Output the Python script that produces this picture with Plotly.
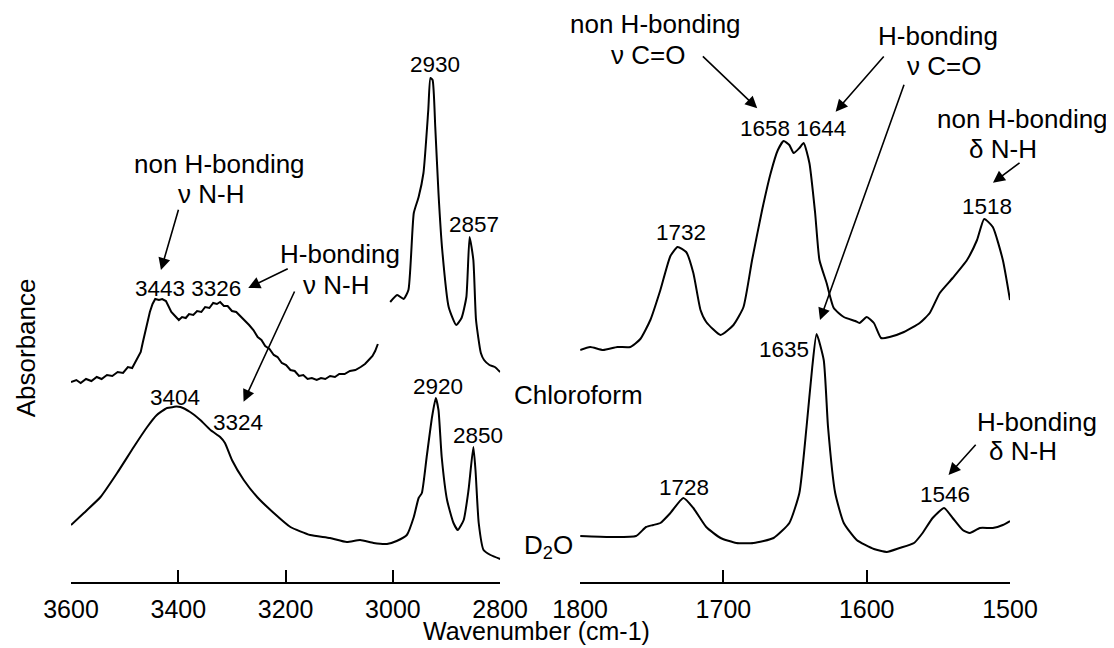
import plotly.graph_objects as go

# ---------------- data (wavenumber cm-1, absorbance a.u.) ----------------
chl_nh_wn = [3600, 3590, 3582, 3572, 3562, 3552, 3543, 3533, 3523, 3513, 3503, 3494, 3486, 3478,
             3470, 3466, 3462, 3458, 3453, 3448, 3443, 3436, 3430, 3423, 3418, 3413, 3406, 3399,
             3393, 3386, 3380, 3372, 3365, 3357, 3350, 3342, 3335, 3328, 3322, 3315, 3308, 3300,
             3292, 3284, 3276, 3268, 3260, 3252, 3245, 3238, 3230, 3222, 3215, 3207, 3199, 3191,
             3183, 3175, 3167, 3159, 3151, 3142, 3134, 3126, 3117, 3108, 3100, 3090, 3080, 3070,
             3060, 3052, 3045, 3038, 3033, 3030, 3028]
chl_nh_abs = [2.00, 2.02, 1.99, 2.03, 2.01, 2.05, 2.03, 2.07, 2.06, 2.10, 2.09, 2.15, 2.14, 2.22,
              2.30, 2.40, 2.50, 2.59, 2.70, 2.78, 2.83, 2.82, 2.83, 2.81, 2.75, 2.70, 2.66, 2.62,
              2.65, 2.64, 2.68, 2.67, 2.71, 2.70, 2.75, 2.74, 2.79, 2.78, 2.80, 2.76, 2.76, 2.71,
              2.70, 2.66, 2.62, 2.57, 2.52, 2.45, 2.42, 2.36, 2.33, 2.27, 2.25, 2.19, 2.17, 2.12,
              2.11, 2.06, 2.07, 2.03, 2.04, 2.02, 2.04, 2.03, 2.06, 2.05, 2.08, 2.08, 2.11, 2.12,
              2.15, 2.18, 2.22, 2.26, 2.31, 2.36, 2.38]

chl_ch_wn = [3005, 2992, 2980, 2971, 2961, 2952, 2943, 2934, 2930, 2926, 2921, 2915, 2908, 2896,
             2882, 2872, 2863, 2857, 2850, 2845, 2836, 2830, 2820, 2810, 2800]
chl_ch_abs = [2.80, 2.87, 2.83, 2.92, 3.69, 3.85, 4.09, 4.72, 5.04, 5.02, 4.55, 3.89, 3.32, 2.75,
              2.57, 2.64, 2.85, 3.45, 3.22, 2.62, 2.29, 2.22, 2.17, 2.15, 2.10]

d2o_l_wn = [3600, 3576, 3545, 3514, 3483, 3458, 3440, 3421, 3409, 3404, 3396, 3378, 3359, 3340,
            3322, 3313, 3300, 3278, 3253, 3222, 3191, 3154, 3117, 3086, 3061, 3036, 3011, 2993,
            2974, 2961, 2952, 2946, 2937, 2927, 2920, 2915, 2909, 2899, 2887, 2879, 2868, 2859,
            2850, 2846, 2840, 2831, 2818, 2800]
d2o_l_abs = [0.57, 0.69, 0.85, 1.09, 1.35, 1.55, 1.67, 1.74, 1.75, 1.755, 1.75, 1.70, 1.62, 1.52,
             1.45, 1.39, 1.22, 1.02, 0.85, 0.69, 0.55, 0.47, 0.44, 0.40, 0.42, 0.39, 0.38, 0.41,
             0.47, 0.65, 0.84, 0.89, 1.25, 1.65, 1.84, 1.72, 1.25, 0.82, 0.59, 0.52, 0.62, 0.92,
             1.35, 1.12, 0.59, 0.32, 0.27, 0.23]

chl_r_wn = [1800, 1793, 1784, 1774, 1765, 1758, 1751, 1744, 1737, 1732, 1726, 1721, 1716, 1712,
            1702, 1693, 1686, 1680, 1673, 1667, 1662, 1658, 1654, 1651, 1647, 1644, 1640, 1636,
            1633, 1628, 1623, 1616, 1608, 1605, 1600, 1595, 1590, 1584, 1574, 1563, 1556, 1549,
            1540, 1530, 1523, 1518, 1512, 1505, 1500]
chl_r_abs = [2.32, 2.35, 2.32, 2.35, 2.35, 2.43, 2.62, 2.92, 3.26, 3.35, 3.30, 3.09, 2.72, 2.60,
             2.47, 2.57, 2.75, 3.22, 3.72, 4.09, 4.32, 4.41, 4.37, 4.29, 4.34, 4.39, 4.19, 3.69,
             3.22, 2.99, 2.74, 2.65, 2.61, 2.59, 2.65, 2.59, 2.44, 2.45, 2.50, 2.59, 2.69, 2.89,
             3.04, 3.22, 3.42, 3.63, 3.55, 3.22, 2.82]

d2o_r_wn = [1800, 1779, 1761, 1754, 1749, 1744, 1737, 1728, 1721, 1712, 1702, 1691, 1679, 1665,
            1654, 1647, 1642, 1638, 1635, 1630, 1627, 1622, 1616, 1607, 1595, 1586, 1577, 1567,
            1561, 1554, 1546, 1540, 1533, 1528, 1521, 1512, 1505, 1500]
d2o_r_abs = [0.46, 0.45, 0.46, 0.55, 0.57, 0.59, 0.69, 0.84, 0.74, 0.55, 0.44, 0.39, 0.39, 0.44,
             0.59, 0.89, 1.55, 2.15, 2.48, 2.22, 1.55, 0.89, 0.59, 0.42, 0.33, 0.30, 0.34, 0.39,
             0.49, 0.64, 0.74, 0.64, 0.52, 0.49, 0.54, 0.54, 0.57, 0.61]

left_ticks = [3600, 3400, 3200, 3000, 2800]
right_ticks = [1800, 1700, 1600, 1500]

# peak labels: text, wavenumber position, absorbance position, axis
peak_text = ["2930", "2857", "3443 3326", "3404", "3324", "2920", "2850",
             "1658 1644", "1518", "1732", "1635", "1728", "1546"]
peak_x = [2921, 2848, 3382, 3406, 3288, 2916, 2841,
          1651.4, 1516.4, 1729.5, 1657.7, 1727.4, 1545.3]
peak_y = [5.18, 3.58, 2.94, 1.845, 1.595, 1.96, 1.47,
          4.54, 3.76, 3.495, 2.33, 0.945, 0.88]
peak_axis = ["x", "x", "x", "x", "x", "x", "x", "x2", "x2", "x2", "x2", "x2", "x2"]

# descriptive labels (paper coordinates)
desc_text = ["non H-bonding", "ν N-H", "H-bonding", "ν N-H", "Chloroform", "D<sub>2</sub>O",
             "non H-bonding", "ν C=O", "H-bonding", "ν C=O", "non H-bonding", "δ N-H",
             "H-bonding", "δ N-H"]
desc_x = [0.1579, 0.1494, 0.2867, 0.2824, 0.5401, 0.5081,
          0.6221, 0.6146, 0.9233, 0.9297, 1.0128, 0.9925, 1.0287, 1.0138]
desc_y = [0.7282, 0.6760, 0.5714, 0.5174, 0.3258, 0.0627,
          0.9721, 0.9181, 0.9512, 0.8990, 0.8066, 0.7544, 0.2793, 0.2282]

# arrows: tip (x, y) and tail (ax, ay) in data units, axis
arrow_axis = ["x", "x", "x", "x2", "x2", "x2", "x2", "x2"]
arrow_x = [3432.3, 3269.6, 3278.3, 1676.4, 1621.7, 1632.6, 1511.9, 1542.9]
arrow_y = [3.12, 2.94, 1.803, 4.737, 4.703, 2.62, 3.993, 1.07]
arrow_ax = [3398.9, 3193.2, 3182.0, 1715.4, 1587.2, 1573.6, 1492.3, 1523.0]
arrow_ay = [3.737, 3.14, 2.92, 5.27, 5.27, 4.987, 4.203, 1.387]

FONT = "Liberation Sans, Arial, sans-serif"

fig = go.Figure()
line = dict(color="black", width=2)
smooth = dict(color="black", width=2, shape="spline", smoothing=0.5)
fig.add_trace(go.Scatter(x=chl_nh_wn, y=chl_nh_abs, mode="lines", line=line, xaxis="x", yaxis="y"))
fig.add_trace(go.Scatter(x=chl_ch_wn, y=chl_ch_abs, mode="lines", line=smooth, xaxis="x", yaxis="y"))
fig.add_trace(go.Scatter(x=d2o_l_wn, y=d2o_l_abs, mode="lines", line=smooth, xaxis="x", yaxis="y"))
fig.add_trace(go.Scatter(x=chl_r_wn, y=chl_r_abs, mode="lines", line=smooth, xaxis="x2", yaxis="y"))
fig.add_trace(go.Scatter(x=d2o_r_wn, y=d2o_r_abs, mode="lines", line=smooth, xaxis="x2", yaxis="y"))

annotations = []
for t, x, y, ax in zip(peak_text, peak_x, peak_y, peak_axis):
    annotations.append(dict(text=t, x=x, y=y, xref=ax, yref="y", showarrow=False,
                            xanchor="center", yanchor="middle",
                            font=dict(family=FONT, size=22.5, color="black")))
for t, x, y in zip(desc_text, desc_x, desc_y):
    annotations.append(dict(text=t, x=x, y=y, xref="paper", yref="paper", showarrow=False,
                            xanchor="center", yanchor="middle",
                            font=dict(family=FONT, size=26, color="black")))
for axn, x, y, tx, ty in zip(arrow_axis, arrow_x, arrow_y, arrow_ax, arrow_ay):
    annotations.append(dict(text="", x=x, y=y, xref=axn, yref="y", ax=tx, ay=ty,
                            axref=axn, ayref="y", showarrow=True, arrowhead=2,
                            arrowsize=1.5, arrowwidth=1.6, arrowcolor="black", standoff=0))
annotations.append(dict(text="Absorbance", x=-0.0476, y=0.4077, xref="paper", yref="paper",
                        xanchor="center", yanchor="middle",
                        textangle=-90, showarrow=False, font=dict(family=FONT, size=26, color="black")))
annotations.append(dict(text="Wavenumber (cm-1)", x=0.4959, y=-0.0854, xref="paper", yref="paper",
                        xanchor="center", yanchor="middle",
                        showarrow=False, font=dict(family=FONT, size=25, color="black")))

axis_common = dict(showline=True, linecolor="black", linewidth=2, ticks="inside", ticklen=12,
                   tickwidth=2, tickcolor="black", showgrid=False, zeroline=False,
                   tickfont=dict(family=FONT, size=25, color="black"), ticklabelstandoff=4,
                   anchor="y", fixedrange=True)

fig.update_layout(
    width=1106, height=640,
    margin=dict(l=62.7, r=104, t=0, b=66),
    paper_bgcolor="white", plot_bgcolor="white",
    showlegend=False,
    xaxis=dict(axis_common, domain=[0, 0.45705], range=[3600, 2800], tickvals=left_ticks),
    xaxis2=dict(axis_common, domain=[0.54222, 1], range=[1800, 1500], tickvals=right_ticks),
    yaxis=dict(range=[0, 5.74], visible=False, fixedrange=True),
    annotations=annotations,
)

fig.write_html("out.html")
